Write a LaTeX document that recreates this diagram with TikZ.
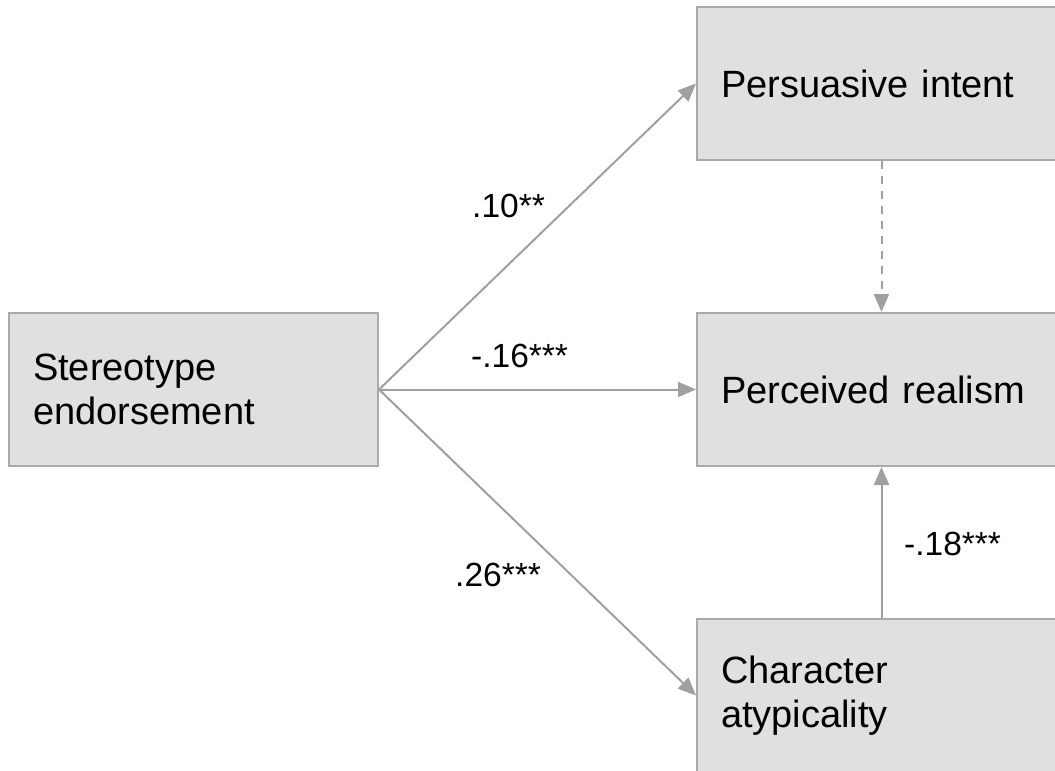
\documentclass[tikz,border=0pt]{standalone}
\usepackage{fontspec}
\setmainfont{Liberation Sans}
\usepackage{xcolor}
\usetikzlibrary{arrows.meta, positioning}
\definecolor{boxfill}{RGB}{224,224,224}
\definecolor{boxline}{RGB}{170,170,170}
\definecolor{pathgray}{RGB}{160,160,160}

\begin{document}
\begin{tikzpicture}[
  x=1pt, y=-1pt,
  var/.style={rectangle, draw=boxline, fill=boxfill, line width=2pt,
              minimum width=369pt, minimum height=153pt,
              inner xsep=24pt, text width=321pt, align=left,
              font=\fontsize{38}{44}\selectfont},
  coef/.style={anchor=base west, inner sep=0pt,
               font=\fontsize{33.5}{40}\selectfont},
  path/.style={-{Triangle[length=18pt, width=15pt]}, line width=2pt, pathgray},
  npath/.style={path, dash pattern=on 8pt off 7pt},
]
\useasboundingbox (0,0) rectangle (1055,771);
\clip (0,0) rectangle (1055,771);
\fill[white] (0,0) rectangle (1055,771);

% Predictor
\node[var] (stereo) at (193.5, 389.5) {Stereotype\\endorsement};

% Mediators and outcome
\node[var] (intent) at (881.5, 83.5) {Persuasive intent};
\node[var] (realism) at (881.5, 389.5) {Perceived realism};
\node[var] (atyp) at (881.5, 695.5) {Character\\atypicality};

% Paths
\draw[path] (stereo.east) -- (intent.west);
\draw[path] (stereo.east) -- (realism.west);
\draw[path] (stereo.east) -- (atyp.west);
\draw[npath] (intent) -- (realism);
\draw[path] (atyp) -- (realism);

% Coefficients
\node[coef] (c1) at (472, 217) {.10**};
\node[coef] (c2) at (471, 367) {-.16***};
\node[coef] (c3) at (455, 586) {.26***};
\node[coef] (c4) at (904, 555) {-.18***};

\end{tikzpicture}
\end{document}
